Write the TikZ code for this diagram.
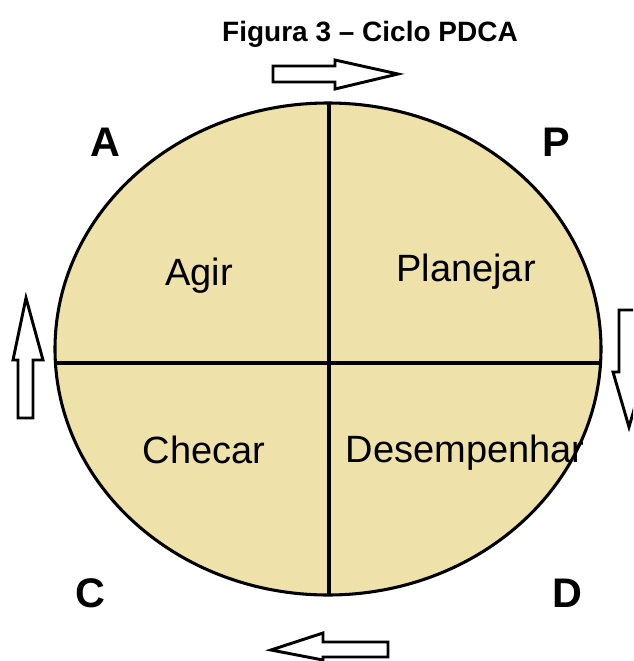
\documentclass[tikz,border=0pt]{standalone}
\usepackage{fontspec}
\setmainfont{Liberation Sans}
\usepackage{xcolor}
\usepackage{tikz}
\usetikzlibrary{positioning}
\definecolor{pdcasand}{HTML}{EEE1AA}
\definecolor{pdcaink}{HTML}{000000}

\begin{document}
\begin{tikzpicture}[
  x=0.75pt,y=-0.75pt,
  quad/.style={font=\fontsize{28.5}{31}\selectfont,text=pdcaink,inner sep=0pt,anchor=base},
  corner/.style={font=\fontsize{31}{34}\selectfont\bfseries,text=pdcaink,inner sep=0pt,anchor=base},
  blockarr/.style={draw=pdcaink,fill=white,line width=2.2pt,line join=miter},
  divider/.style={draw=pdcaink,line width=2.3pt}
]
\useasboundingbox (0,0) rectangle (633,661);
% titulo
\node[font=\fontsize{21}{24}\selectfont\bfseries,inner sep=0pt,anchor=base] (titulo) at (370,41) {Figura 3 -- Ciclo PDCA};
% ciclo
\coordinate (centro) at (328,349);
\fill[pdcasand] (centro) ellipse [x radius=273,y radius=246];
\coordinate (topo) at (329,103);
\coordinate (base) at (329,595);
\coordinate (esq) at (55,363);
\coordinate (dir) at (601,363);
\draw[divider] (topo) -- (base);
\draw[divider] (esq) -- (dir);
\draw[divider] (centro) ellipse [x radius=273,y radius=246];
% quadrantes
\node[quad] (agir) at (199,285) {Agir};
\node[quad] (planejar) at (466,281) {Planejar};
\node[quad] (checar) at (204,463) {Checar};
\node[quad] (desempenhar) at (465,462) {Desempenhar};
% letras
\node[corner] (la) at (105,156) {A};
\node[corner] (lp) at (556,156) {P};
\node[corner] (lc) at (90,607) {C};
\node[corner] (ld) at (567,607) {D};
% setas
\begin{scope}
\clip (0,0) rectangle (633,661);
\draw[blockarr] (273,66) -- (335,66) -- (335,60) -- (398,74) -- (335,89) -- (335,82) -- (273,82) -- cycle;
\draw[blockarr] (619,310) -- (636,310) -- (636,372) -- (645,372) -- (629,427) -- (613,372) -- (619,372) -- cycle;
\draw[blockarr] (388,642) -- (323,642) -- (323,633) -- (271,650) -- (323,660) -- (323,657) -- (388,657) -- cycle;
\draw[blockarr] (18,418) -- (18,360) -- (13,360) -- (26,298) -- (43,360) -- (33,360) -- (33,418) -- cycle;
\end{scope}
\end{tikzpicture}
\end{document}
